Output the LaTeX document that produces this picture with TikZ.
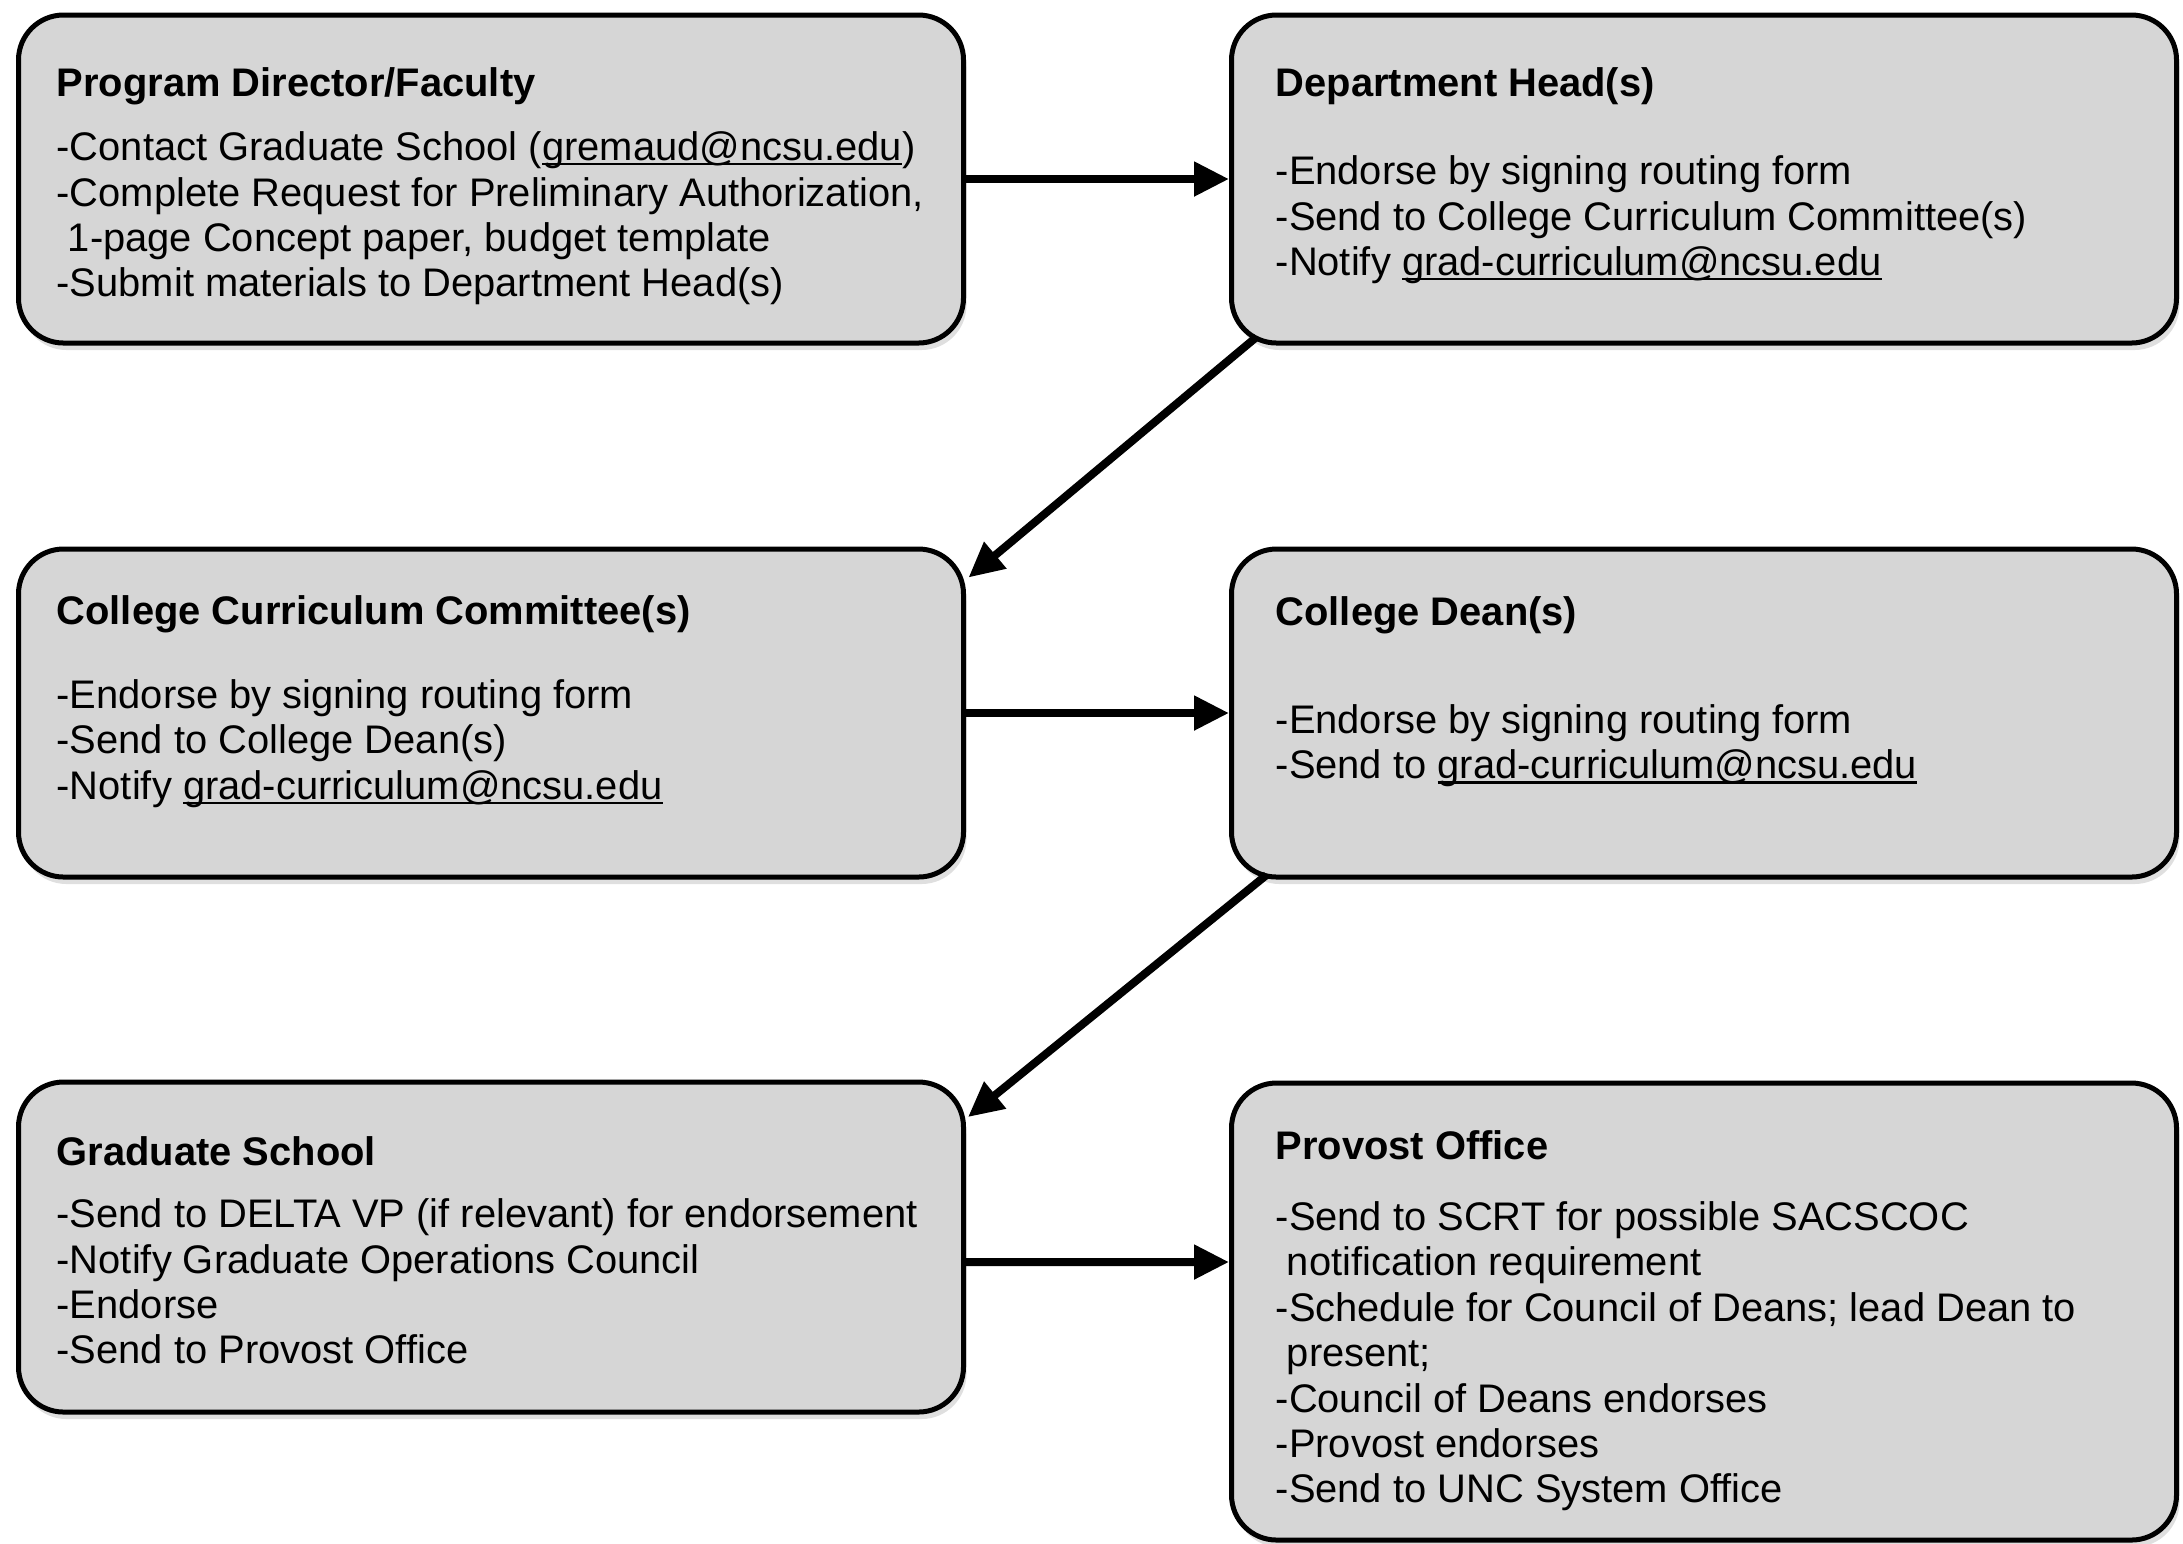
\documentclass[tikz,border=0pt]{standalone}
\usepackage{fontspec}
\setmainfont{Liberation Sans}
\usepackage{xcolor}
\usetikzlibrary{shadows}
\usetikzlibrary{arrows.meta}
\definecolor{boxfill}{RGB}{214,214,214}
\newsavebox{\mailbox}
\newcommand{\mailaddr}[1]{\sbox{\mailbox}{#1}\rlap{\rule[-1.3pt]{\wd\mailbox}{0.6pt}}\usebox{\mailbox}}

\tikzset{
  stagebox/.style={draw, line width=0.05cm, rounded corners=0.45cm, fill=boxfill,
    minimum width=9.45cm, minimum height=3.28cm,
    drop shadow={shadow xshift=0.03cm, shadow yshift=-0.07cm, opacity=0.25}},
  boxtitle/.style={anchor=north west, inner sep=0pt,
    font=\fontsize{11.35}{12.9}\selectfont\bfseries, execute at begin node=\strut},
  boxbody/.style={anchor=north west, inner sep=0pt, align=left,
    font=\fontsize{11.35}{12.9}\selectfont, execute at begin node=\strut},
  flow/.style={-{Triangle[length=0.35cm,width=0.33cm]}, line width=0.08cm}
}

\begin{document}
\begin{tikzpicture}
            \useasboundingbox (0,0) rectangle (21.83,-15.43);
            % the six stages
            \node (pdf) [stagebox] at (4.91,-1.79) {};
            \node (dept) [stagebox] at (17.04,-1.79) {};
            \node (ccc) [stagebox] at (4.91,-7.13) {};
            \node (dean) [stagebox] at (17.04,-7.13) {};
            \node (grad) [stagebox, minimum height=3.30cm] at (4.91,-12.47) {};
            \node (provost) [stagebox, minimum height=4.57cm] at (17.04,-13.115) {};
            % texts
            \node (pdftitle) [boxtitle] at (0.56,-0.64) {Program Director/Faculty};
            \node (pdfbody) [boxbody] at (0.56,-1.313) {-Contact Graduate School (\mailaddr{gremaud@ncsu.edu})\\-Complete Request for Preliminary Authorization,\\\hspace*{0.28em}1-page Concept paper, budget template\\-Submit materials to Department Head(s)};
            \node (depttitle) [boxtitle] at (12.75,-0.64) {Department Head(s)};
            \node (deptbody) [boxbody] at (12.75,-1.553) {-Endorse by signing routing form\\-Send to College Curriculum Committee(s)\\-Notify \mailaddr{grad-curriculum@ncsu.edu}};
            \node (ccctitle) [boxtitle] at (0.56,-5.925) {College Curriculum Committee(s)};
            \node (cccbody) [boxbody] at (0.56,-6.79) {-Endorse by signing routing form\\-Send to College Dean(s)\\-Notify \mailaddr{grad-curriculum@ncsu.edu}};
            \node (deantitle) [boxtitle] at (12.75,-5.93) {College Dean(s)};
            \node (deanbody) [boxbody] at (12.75,-7.04) {-Endorse by signing routing form\\-Send to \mailaddr{grad-curriculum@ncsu.edu}};
            \node (gradtitle) [boxtitle] at (0.56,-11.33) {Graduate School};
            \node (gradbody) [boxbody] at (0.56,-11.983) {-Send to DELTA VP (if relevant) for endorsement\\-Notify Graduate Operations Council\\-Endorse\\-Send to Provost Office};
            \node (provtitle) [boxtitle] at (12.75,-11.27) {Provost Office};
            \node (provbody) [boxbody] at (12.75,-12.01) {-Send to SCRT for possible SACSCOC\\\hspace*{0.28em}notification requirement\\-Schedule for Council of Deans; lead Dean to\\\hspace*{0.28em}present;\\-Council of Deans endorses\\-Provost endorses\\-Send to UNC System Office};
            % flow
            \draw [flow] (pdf) -- (dept);
            \draw [flow] ([xshift=0.275cm,yshift=0.085cm]dept.south west) -- ([xshift=0.025cm,yshift=-0.31cm]ccc.north east);
            \draw [flow] (ccc) -- (dean);
            \draw [flow] ([xshift=0.375cm,yshift=0.045cm]dean.south west) -- ([xshift=0.02cm,yshift=-0.375cm]grad.north east);
            \draw [flow] ([yshift=-0.15cm]grad.east) -- ([yshift=0.495cm]provost.west);
        \end{tikzpicture}
\end{document}
